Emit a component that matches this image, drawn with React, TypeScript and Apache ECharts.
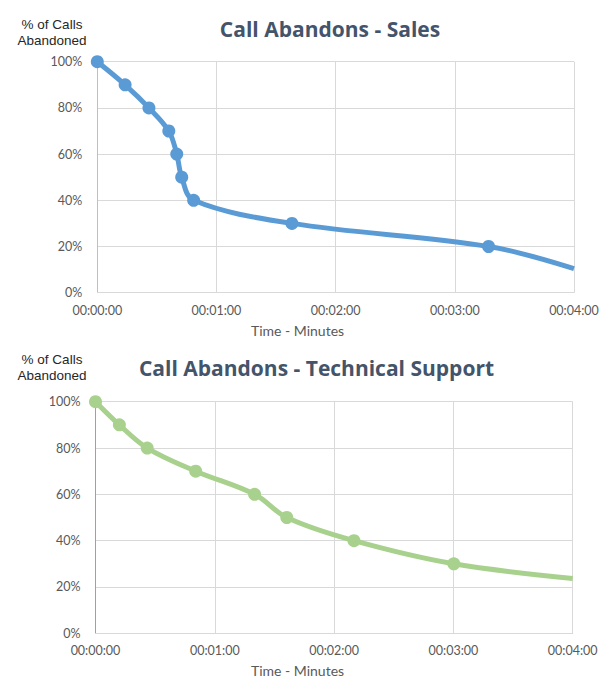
import React, { useEffect, useRef } from "react";
import * as echarts from "echarts";

// Time in seconds, percentage of calls abandoned
const salesSeconds = [0, 14, 26, 36, 40, 42.5, 48.5, 98, 197, 240];
const salesPercent = [100, 90, 80, 70, 60, 50, 40, 30, 20, 10.4];

const supportSeconds = [0, 12, 26, 50.4, 80, 96.2, 130, 180.2, 240];
const supportPercent = [100, 90, 80, 70, 60, 50, 40, 30, 23.7];

const xTickLabels = ["00:00:00", "00:01:00", "00:02:00", "00:03:00", "00:04:00"];
const titles = ["Call Abandons - Sales", "Call Abandons - Technical Support"];
const yAxisTitleLines = ["% of Calls", "Abandoned"];
const xAxisTitle = "Time - Minutes";

const FONT = "Lato, 'Noto Sans', sans-serif";
const TITLE_FONT = "'Open Sans', 'Noto Sans', sans-serif";
const NAME_FONT = "'Liberation Sans', Arial, sans-serif";

function buildData(xs: number[], ys: number[]) {
  return xs.map((x, i) => {
    const item: any = { value: [x, ys[i]] };
    if (i === xs.length - 1) item.symbol = "none";
    return item;
  });
}

export default function App() {
  const ref = useRef<HTMLDivElement>(null);

  useEffect(() => {
    if (!ref.current) return;
    const chart = echarts.init(ref.current, undefined, { renderer: "svg" });

    const axisLabel = {
      color: "#595959",
      fontSize: 12.5,
      fontFamily: FONT,
    };

    const makeX = (gridIndex: number) => ({
      type: "value",
      gridIndex,
      min: 0,
      max: 240,
      interval: 60,
      axisLine: { show: true, lineStyle: { color: "#d9d9d9", width: 1 } },
      axisTick: { show: false },
      splitLine: { show: true, lineStyle: { color: "#d9d9d9", width: 1 } },
      axisLabel: {
        ...axisLabel,
        margin: 11,
        formatter: (v: number) => xTickLabels[Math.round(v / 60)] ?? "",
      },
    });

    const makeY = (gridIndex: number, axisColor: string) => ({
      type: "value",
      gridIndex,
      min: 0,
      max: 100,
      interval: 20,
      axisLine: { show: true, lineStyle: { color: axisColor, width: 1 } },
      axisTick: { show: false },
      splitLine: { show: true, lineStyle: { color: "#d9d9d9", width: 1 } },
      axisLabel: { ...axisLabel, margin: 15, formatter: "{value}%" },
    });

    const textEl = (text: string, x: number, y: number, style: any) => ({
      type: "text",
      x,
      y,
      style: {
        text,
        align: "center",
        verticalAlign: "middle",
        fontFamily: FONT,
        ...style,
      },
    });

    const titleStyle = {
      fontSize: 21,
      fontWeight: "bold",
      fill: "#44546a",
      fontFamily: TITLE_FONT,
    };
    const yNameStyle = {
      fontSize: 13.5,
      fill: "#262626",
      fontFamily: NAME_FONT,
      lineHeight: 15.6,
    };
    const xNameStyle = { fontSize: 14, fill: "#595959" };

    chart.setOption({
      animation: false,
      backgroundColor: "#ffffff",
      grid: [
        { left: 97.3, top: 61.7, width: 476.7, height: 231, containLabel: false },
        { left: 95.5, top: 401.7, width: 477.2, height: 231.6, containLabel: false },
      ],
      xAxis: [makeX(0), makeX(1)],
      yAxis: [makeY(0, "#bfbfbf"), makeY(1, "#8ea3c4")],
      series: [
        {
          type: "line",
          xAxisIndex: 0,
          yAxisIndex: 0,
          data: buildData(salesSeconds, salesPercent),
          smooth: 0.35,
          symbol: "circle",
          symbolSize: 13,
          lineStyle: { color: "#5b9bd5", width: 5 },
          itemStyle: { color: "#5b9bd5" },
        },
        {
          type: "line",
          xAxisIndex: 1,
          yAxisIndex: 1,
          data: buildData(supportSeconds, supportPercent),
          smooth: 0.35,
          symbol: "circle",
          symbolSize: 13,
          lineStyle: { color: "#a9d18e", width: 5 },
          itemStyle: { color: "#a9d18e" },
        },
      ],
      graphic: [
        textEl(titles[0], 330, 29, titleStyle),
        textEl(titles[1], 316.5, 368.3, titleStyle),
        textEl(yAxisTitleLines[0], 52, 24.4, yNameStyle),
        textEl(yAxisTitleLines[1], 52, 40.2, yNameStyle),
        textEl(yAxisTitleLines[0], 52, 359.2, yNameStyle),
        textEl(yAxisTitleLines[1], 52, 375, yNameStyle),
        textEl(xAxisTitle, 297.5, 330, xNameStyle),
        textEl(xAxisTitle, 297.5, 670.7, xNameStyle),
      ],
    });

    return () => chart.dispose();
  }, []);

  return (
    <div
      ref={ref}
      style={{ position: "fixed", left: 0, top: 0, width: 613, height: 694 }}
    />
  );
}
